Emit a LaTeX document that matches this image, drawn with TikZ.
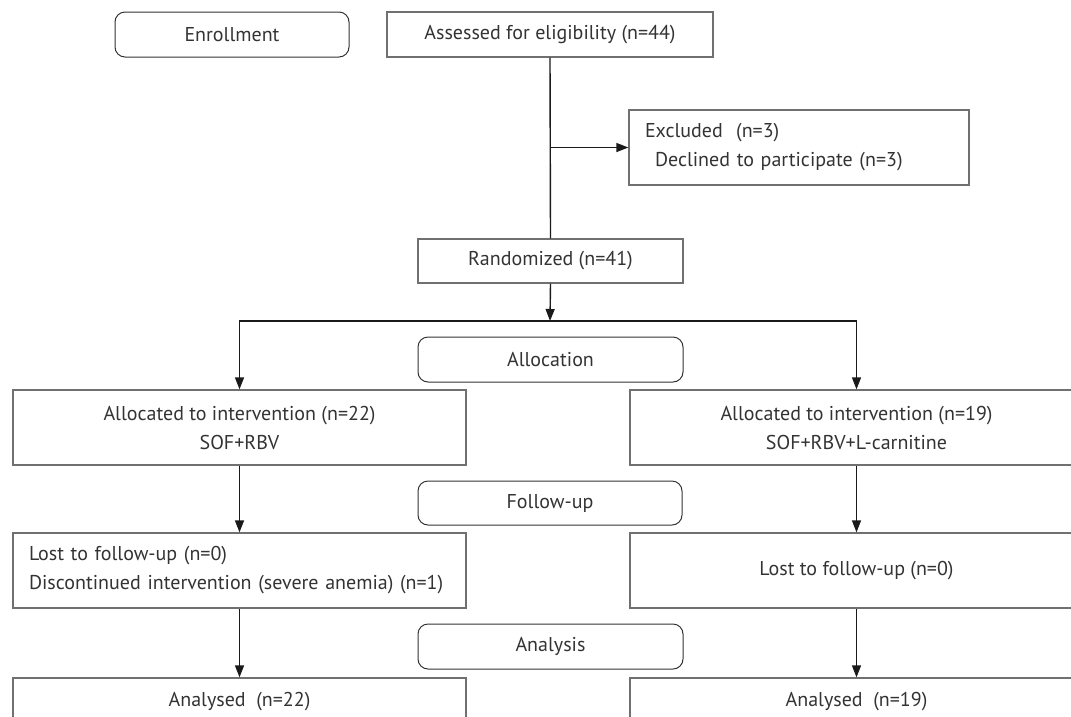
\documentclass[tikz,border=0pt]{standalone}
\usepackage{fontspec}
\setmainfont{PT Sans}
\usetikzlibrary{arrows.meta}
\definecolor{txt}{HTML}{333333}
\definecolor{bordergray}{HTML}{707070}
\definecolor{linek}{HTML}{1A1A1A}
\begin{document}
\begin{tikzpicture}[x=1pt,y=-1pt,
  every node/.style={font=\fontsize{20}{29}\selectfont, text=txt, inner sep=0pt},
  box/.style={draw=bordergray, line width=1.3pt, rectangle},
  stage/.style={draw=txt, line width=1pt, rectangle, rounded corners=10pt},
  arr/.style={draw=linek, line width=1.4pt, -{Triangle[length=12pt,width=9pt]}},
  conn/.style={draw=linek, line width=1.4pt}]
\useasboundingbox (0,0) rectangle (1071,716);
\clip (0,0) rectangle (1071,716);
% stage labels
\node[stage, minimum width=234pt, minimum height=45pt] (enr) at (232,34.5) {Enrollment};
\node[stage, minimum width=265pt, minimum height=45pt] (alc) at (550.5,359.5) {Allocation};
\node[stage, minimum width=264pt, minimum height=44pt] (fup) at (550,503) {Follow-up};
\node[stage, minimum width=265pt, minimum height=45pt] (ana) at (550.5,646.5) {Analysis};
% boxes
\node[box, minimum width=326pt, minimum height=45pt] (ass) at (550,34.5) {Assessed for eligibility (n=44)};
\node[box, minimum width=340pt, minimum height=75pt, text width=308pt, align=left] (exc) at (799,147.5)
  {Excluded\ \ (n=3)\\\hspace*{10pt}Declined to participate (n=3)};
\node[box, minimum width=265pt, minimum height=44pt] (rnd) at (550.5,261) {Randomized (n=41)};
\node[box, minimum width=453pt, minimum height=75pt, align=center] (allL) at (239.5,427.5)
  {Allocated to intervention (n=22)\\SOF+RBV};
\node[box, minimum width=453pt, minimum height=75pt, align=center] (allR) at (856.5,427.5)
  {Allocated to intervention (n=19)\\SOF+RBV+L-carnitine};
\node[box, minimum width=453pt, minimum height=75pt, text width=421pt, align=left] (lostL) at (239.5,570.5)
  {Lost to follow-up (n=0)\\Discontinued intervention (severe anemia) (n=1)};
\node[box, minimum width=453pt, minimum height=75pt] (lostR) at (856.5,570.5) {Lost to follow-up (n=0)};
\node[box, minimum width=453pt, minimum height=48pt] (anL) at (239.5,702) {Analysed\ \ (n=22)};
\node[box, minimum width=453pt, minimum height=48pt] (anR) at (856.5,702) {Analysed\ \ (n=19)};
% connectors
\coordinate (br) at (ass.south |- exc.west);
\coordinate (split) at (550,321);
\draw[conn] (ass.south) -- (rnd.north);
\draw[arr] (br) -- (exc.west);
\draw[arr] (rnd.south) -- (split);
\draw[arr] (split) -| (allL.north);
\draw[arr] (split) -| (allR.north);
\draw[arr] (allL.south) -- (lostL.north);
\draw[arr] (allR.south) -- (lostR.north);
\draw[arr] (lostL.south) -- (anL.north);
\draw[arr] (lostR.south) -- (anR.north);
\end{tikzpicture}
\end{document}
